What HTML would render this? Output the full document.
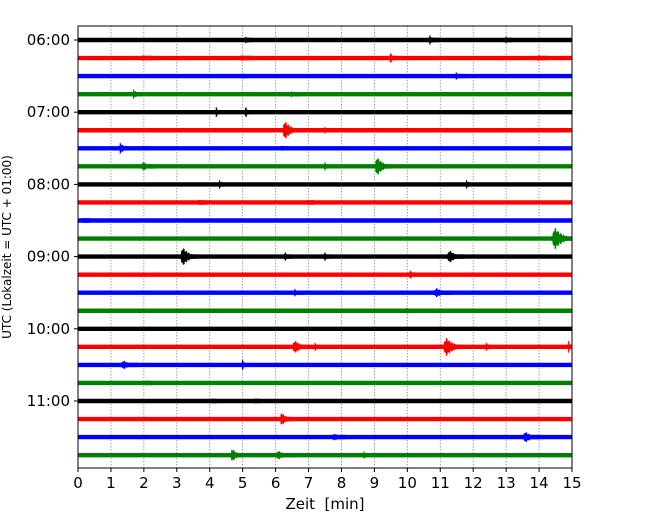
<!DOCTYPE html>
<html><head><meta charset="utf-8"><style>
body{margin:0;background:#fff}
svg{display:block;font-family:"DejaVu Sans","Liberation Sans",sans-serif}
</style></head><body>
<svg id="chart" width="650" height="520" viewBox="0 0 650 520">
<rect x="0" y="0" width="650" height="520" fill="#fff"/>
<g id="grid"></g>
<g id="traces"></g>
<g id="axes"></g>
<text x="325" y="509" font-size="15" text-anchor="middle" style="white-space:pre">Zeit  [min]</text>
<text transform="translate(11,247) rotate(-90)" font-size="12" text-anchor="middle">UTC (Lokalzeit = UTC + 01:00)</text>
</svg>
<script>
const xTicks=[0,1,2,3,4,5,6,7,8,9,10,11,12,13,14,15];
const yTickLabels=["06:00","07:00","08:00","09:00","10:00","11:00"];
const rowCount=24;
const colors=["#000000","#ff0000","#0000ff","#008000"];
// events: row index, minute, amplitude (px), duration (min)
const evRow=[0,0,0,1,1,1,1,2,2,3,3,4,4,4,5,5,6,6,6,7,7,7,8,8,9,9,10,11,12,12,12,12,13,14,14,15,17,17,17,17,17,18,18,19,20,20,21,22,22,23,23,23];
const evMin=[5.1,10.7,13.0,2.0,5.0,9.5,14.0,5.0,11.5,1.7,6.5,4.2,5.1,12.0,6.3,7.5,1.3,2.0,6.2,2.0,7.5,9.1,4.3,11.8,3.7,7.0,0.2,14.5,3.2,6.3,7.5,11.3,10.1,6.6,10.9,10.0,6.6,7.2,11.2,12.4,14.9,1.4,5.0,2.1,4.1,5.4,6.2,7.8,13.6,4.7,6.1,8.7];
const evAmp=[4,5,4,3,3,6,3,3,4,5,3,6,6,3,10,4,6,3,3,5,5,10,5,5,3,3,3,12,10,5,5,7,5,4,5,3,7,5,10,5,7,5,6,3,3,3,7,4,6,7,5,4];
const evDur=[.2,.3,.2,.3,.3,.2,.3,.2,.3,.3,.3,.1,.2,.2,.5,.1,.3,.2,.2,.4,.1,.5,.1,.1,.2,.2,.2,.6,.5,.2,.2,.5,.2,.3,.6,.3,.5,.1,.6,.1,.1,.5,.1,.2,.1,.1,.4,.4,.5,.4,.5,.3];

const NS="http://www.w3.org/2000/svg";
const L=78,R=572,T=26,B=468,row0=40,rowStep=18.05;
const xS=m=>L+(m-xTicks[0])/(xTicks[xTicks.length-1]-xTicks[0])*(R-L);
const yS=r=>row0+r*rowStep;
function mk(tag,attrs,parent){const e=document.createElementNS(NS,tag);for(const k in attrs)e.setAttribute(k,attrs[k]);parent.appendChild(e);return e;}
const grid=document.getElementById('grid'),tr=document.getElementById('traces'),ax=document.getElementById('axes');
xTicks.forEach(t=>{
  const l=mk('line',{x1:xS(t),x2:xS(t),y1:T,y2:B,stroke:'#888','stroke-width':0.8,'stroke-dasharray':'1.5,1.5'},grid);
  
  
  const tk=mk('line',{x1:xS(t),x2:xS(t),y1:B,y2:B+4,stroke:'#000','stroke-width':1},ax);
  
  
  const tx=mk('text',{x:xS(t),y:B+20,'font-size':15,'text-anchor':'middle'},ax);
  tx.textContent=t;
  
  
});
for(let r=0;r<rowCount;r++){
  const ln=mk('line',{x1:L,x2:R,y1:yS(r),y2:yS(r),stroke:colors[r%4],'stroke-width':4.4},tr);
  
  
}
for(let i=0;i<evRow.length;i++){
  const y=yS(evRow[i]),x0=xS(evMin[i]),w=Math.max(4,evDur[i]*(R-L)/15);
  const n=Math.round(w/0.7);let d='';
  for(let k=0;k<=n;k++){const x=x0-w*0.2+k*w/n;const f=k/n;const env=(f<0.15?f/0.15:Math.exp(-2.5*(f-0.15)));const a=Math.max(2.2,evAmp[i]*env*(0.55+0.45*Math.abs(Math.sin(k*2.3))));d+='M'+x.toFixed(1)+','+(y-a).toFixed(1)+'V'+(y+a).toFixed(1);}
  const p=mk('path',{d:d,fill:'none',stroke:colors[evRow[i]%4],'stroke-width':0.9},tr);
  
  
}
yTickLabels.forEach((lab,i)=>{
  const y=yS(i*4);
  const tk=mk('line',{x1:L-4,x2:L,y1:y,y2:y,stroke:'#000','stroke-width':1},ax);
  
  
  const tx=mk('text',{x:L-8,y:y+5,'font-size':15,'text-anchor':'end'},ax);
  tx.textContent=lab;
  
  
});
const fr=mk('rect',{x:L,y:T,width:R-L,height:B-T,fill:'none',stroke:'#000','stroke-width':1},ax);


</script>
</body></html>
